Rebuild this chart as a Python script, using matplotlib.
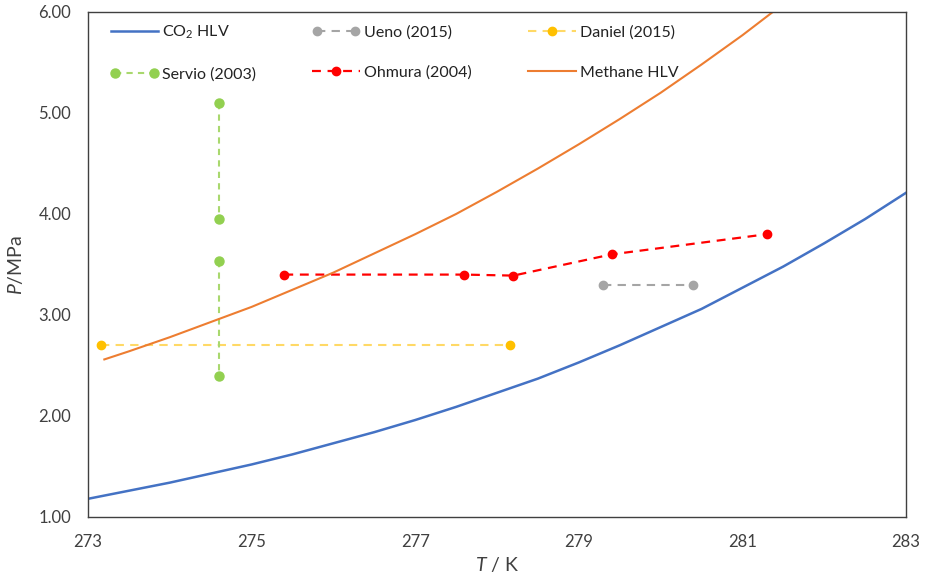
import numpy as np
from matplotlib import pyplot as plt
from matplotlib.legend_handler import HandlerLine2D

plt.rcParams['font.family'] = ['Lato', 'DejaVu Sans']
plt.rcParams['mathtext.fontset'] = 'custom'
plt.rcParams['mathtext.it'] = 'Lato:italic'
plt.rcParams['mathtext.rm'] = 'Lato'

# Hydrate-liquid-vapour equilibrium curves
T_co2 = [273.0, 273.5, 274.0, 274.5, 275.0, 275.5, 276.0, 276.5, 277.0, 277.5, 278.0,
         278.5, 279.0, 279.5, 280.0, 280.5, 281.0, 281.5, 282.0, 282.5, 283.0]
P_co2 = [1.18, 1.26, 1.34, 1.43, 1.52, 1.62, 1.73, 1.84, 1.96, 2.09, 2.23,
         2.37, 2.53, 2.70, 2.88, 3.06, 3.27, 3.48, 3.71, 3.95, 4.21]

T_ch4 = [273.2, 273.5, 274.0, 274.5, 275.0, 275.5, 276.0, 276.5, 277.0, 277.5,
         278.0, 278.5, 279.0, 279.5, 280.0, 280.5, 281.0, 281.5, 282.0]
P_ch4 = [2.56, 2.64, 2.78, 2.93, 3.08, 3.25, 3.42, 3.61, 3.80, 4.00,
         4.22, 4.45, 4.69, 4.94, 5.20, 5.48, 5.77, 6.08, 6.41]

# Experimental conditions from the literature
T_ueno = [279.3, 280.4]
P_ueno = [3.3, 3.3]

T_daniel = [273.16, 278.16]
P_daniel = [2.7, 2.7]

T_servio = [274.6, 274.6, np.nan, 274.6, 274.6]
P_servio = [5.1, 3.95, np.nan, 3.53, 2.4]

T_ohmura = [275.4, 277.6, 278.2, 279.4, 281.3]
P_ohmura = [3.4, 3.4, 3.39, 3.6, 3.8]

fig = plt.figure(figsize=(9.25, 5.82), dpi=100)
ax = fig.add_axes([0.0951, 0.1117, 0.8844, 0.8677])

l_co2, = ax.plot(T_co2, P_co2, color='#4472C4', lw=1.8, label=r'CO$_2$ HLV')
l_ueno, = ax.plot(T_ueno, P_ueno, color='#A5A5A5', lw=1.5, dashes=(4, 3),
                  marker='o', ms=6, label='Ueno (2015)')
l_daniel, = ax.plot(T_daniel, P_daniel, color='#FFD966', lw=1.5, dashes=(4, 3),
                    marker='o', ms=6, mfc='#FFC000', mec='#FFC000',
                    label='Daniel (2015)')
l_servio, = ax.plot(T_servio, P_servio, color='#A9D86E', lw=1.5, dashes=(3, 2.5),
                    marker='o', ms=6.5, mfc='#92D050', mec='#92D050',
                    label='Servio (2003)')
l_ohmura, = ax.plot(T_ohmura, P_ohmura, color='#FF0000', lw=1.6, dashes=(4, 3),
                    marker='o', ms=6, label='Ohmura (2004)')
l_ch4, = ax.plot(T_ch4, P_ch4, color='#ED7D31', lw=1.5, label='Methane HLV')

ax.set_xlim(273, 283)
ax.set_ylim(1, 6)
ax.set_xticks(np.arange(273, 284, 2))
ax.set_yticks(np.arange(1, 7, 1))
ax.set_yticklabels(['%.2f' % v for v in np.arange(1, 7, 1)])
ax.tick_params(length=0, labelsize=12, colors='#404040', pad=12)
ax.tick_params(axis='x', pad=12)
for s in ax.spines.values():
    s.set_color('#404040')
    s.set_linewidth(1.0)

ax.set_xlabel(r'$T$ / K', fontsize=14, color='#404040', labelpad=4)
ax.set_ylabel(r'$P$/MPa', fontsize=14, color='#404040', labelpad=10)

handles = [l_co2, l_servio, l_ueno, l_ohmura, l_daniel, l_ch4]
ax.legend(handles=handles, ncol=3, loc='upper left', bbox_to_anchor=(0.01, 1.006),
          frameon=False, fontsize=11.5, handlelength=3.0, handletextpad=0.25,
          columnspacing=3.5, labelspacing=1.65, labelcolor='#222222',
          handler_map={l_servio: HandlerLine2D(numpoints=2),
                       l_ueno: HandlerLine2D(numpoints=2)})

plt.savefig('out.png', dpi=100)
